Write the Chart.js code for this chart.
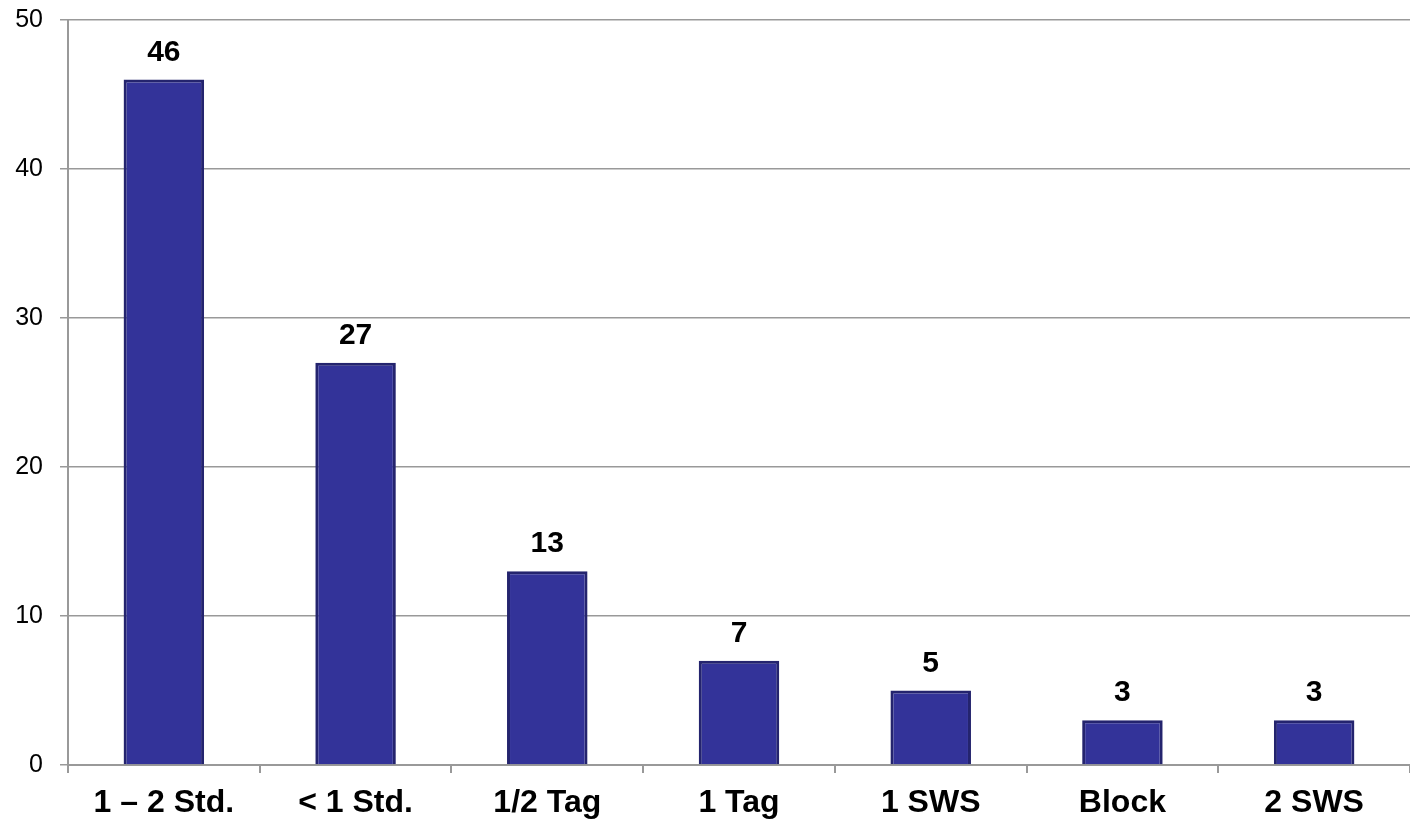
<!DOCTYPE html>
<html>
<head>
<meta charset="utf-8">
<script src="https://cdn.jsdelivr.net/npm/chart.js@4/dist/chart.umd.min.js"></script>
<style>
  html, body { margin: 0; padding: 0; background: #fff; }
  #wrap { width: 1410px; height: 822px; }
</style>
</head>
<body>
<div id="wrap"><canvas id="chart"></canvas></div>
<script>
const categories = ['1 \u2013 2 Std.', '< 1 Std.', '1/2 Tag', '1 Tag', '1 SWS', 'Block', '2 SWS'];
const counts = [46, 27, 13, 7, 5, 3, 3];
const yTicks = [0, 10, 20, 30, 40, 50];

const FONT = '"Liberation Sans", Arial, sans-serif';

// value labels above each bar
const barLabels = {
  id: 'barLabels',
  afterDatasetsDraw(chart) {
    const ctx = chart.ctx;
    const meta = chart.getDatasetMeta(0);
    ctx.save();
    ctx.font = 'bold 30px ' + FONT;
    ctx.fillStyle = '#000';
    ctx.textAlign = 'center';
    ctx.textBaseline = 'alphabetic';
    meta.data.forEach((bar, i) => {
      ctx.fillText(String(counts[i]), bar.x, bar.y - 19);
    });
    ctx.restore();
  }
};

new Chart(document.getElementById('chart'), {
  type: 'bar',
  data: {
    labels: categories,
    datasets: [{
      data: counts,
      backgroundColor: '#333399',
      borderColor: '#24246e',
      borderWidth: 3,
      barPercentage: 0.42,
      categoryPercentage: 1
    }]
  },
  options: {
    responsive: true,
    maintainAspectRatio: false,
    animation: false,
    layout: { padding: { top: 20, right: 0, left: 0, bottom: 0 } },
    plugins: { legend: { display: false }, tooltip: { enabled: false } },
    scales: {
      x: {
        grid: { display: true, drawOnChartArea: false, color: '#999', tickLength: 8, lineWidth: 2, offset: true },
        border: { color: '#999', width: 2 },
        ticks: { color: '#000', font: { family: FONT, size: 32, weight: 'bold' }, padding: 11, maxRotation: 0 },
        afterFit(axis) { axis.height = 57; }
      },
      y: {
        min: 0,
        max: 50,
        afterBuildTicks(axis) { axis.ticks = yTicks.map(v => ({ value: v })); },
        grid: { color: '#999', lineWidth: 1.5, tickLength: 8 },
        border: { color: '#999', width: 2 },
        ticks: { color: '#000', font: { family: FONT, size: 25 }, padding: 17 },
        afterFit(axis) { axis.width = 68; axis.paddingTop = 0; axis.paddingBottom = 0; }
      }
    }
  },
  plugins: [barLabels]
});
</script>
</body>
</html>
